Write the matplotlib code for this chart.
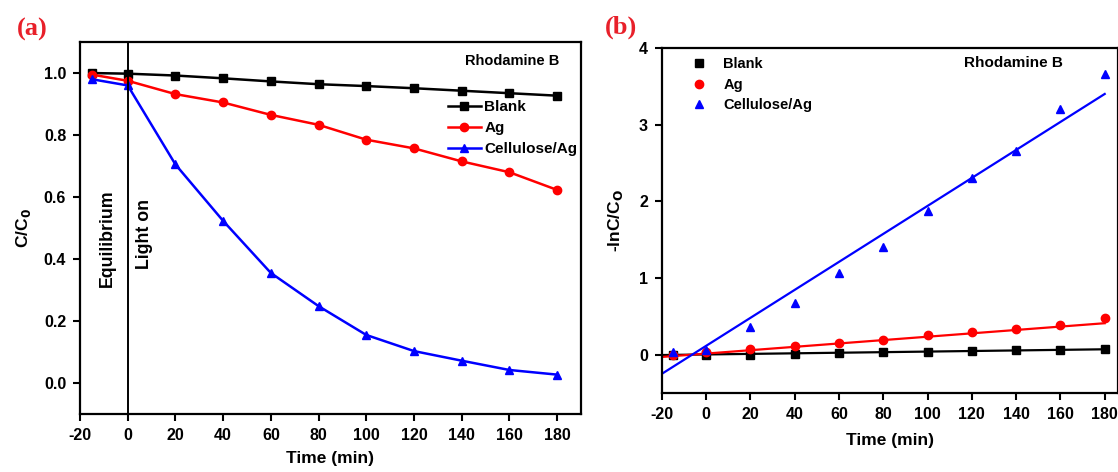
import numpy as np
import matplotlib
matplotlib.use('Agg')
import matplotlib.pyplot as plt

plt.rcParams['font.family'] = ['Liberation Sans', 'DejaVu Sans']
plt.rcParams['font.weight'] = 'bold'
plt.rcParams['axes.unicode_minus'] = False

# Data
time = [-15, 0, 20, 40, 60, 80, 100, 120, 140, 160, 180]
blank_c = [1.0, 0.998, 0.992, 0.983, 0.973, 0.964, 0.958, 0.951, 0.943, 0.935, 0.927]
ag_c = [0.995, 0.975, 0.932, 0.905, 0.865, 0.833, 0.785, 0.757, 0.715, 0.680, 0.623]
cell_c = [0.98, 0.96, 0.705, 0.523, 0.355, 0.248, 0.155, 0.103, 0.072, 0.042, 0.027]

blank_ln = [0.0, 0.0, 0.0, 0.01, 0.02, 0.03, 0.04, 0.05, 0.06, 0.065, 0.08]
ag_ln = [-0.01, 0.03, 0.08, 0.11, 0.15, 0.19, 0.25, 0.29, 0.34, 0.39, 0.48]
cell_ln = [0.04, 0.065, 0.36, 0.67, 1.06, 1.41, 1.88, 2.30, 2.65, 3.20, 3.66]

# linear fits as drawn in panel (b)
fit_slope = [0.000375, 0.0022, 0.01825]
fit_intercept = [0.0025, 0.014, 0.115]
fit_range = [-20, 180]

names = ['Blank', 'Ag', 'Cellulose/Ag']
colors = ['black', '#ff0000', '#0000ff']
markers = ['s', 'o', '^']
xticks = [-20, 0, 20, 40, 60, 80, 100, 120, 140, 160, 180]

fig = plt.figure(figsize=(11.18, 4.72), dpi=100)


def style_axes(ax):
    for s in ax.spines.values():
        s.set_linewidth(1.6)
    ax.tick_params(direction='out', length=5, width=1.5, labelsize=11.5,
                   top=False, right=False, pad=5)
    for lab in ax.get_xticklabels() + ax.get_yticklabels():
        lab.set_fontweight('bold')


# Panel (a)
ax1 = fig.add_axes([0.0716, 0.1229, 0.448, 0.788])
for ys, n, c, m in zip([blank_c, ag_c, cell_c], names, colors, markers):
    ax1.plot(time, ys, '-', color=c, marker=m, ms=6, lw=1.8, label=n)
ax1.axvline(0, color='black', lw=1.4)
ax1.set_xlim(-20, 190)
ax1.set_ylim(-0.1, 1.1)
ax1.set_xticks(xticks)
ax1.set_yticks([0.0, 0.2, 0.4, 0.6, 0.8, 1.0])
ax1.set_yticklabels(['0.0', '0.2', '0.4', '0.6', '0.8', '1.0'])
ax1.set_xlabel('Time (min)', fontsize=12.5, fontweight='bold', labelpad=6)
ax1.set_ylabel('C/C$_\\mathbf{0}$', fontsize=12.5, fontweight='bold', labelpad=8)
ax1.text(-8.7, 0.467, 'Equilibrium', rotation=90, fontsize=12.8,
         fontweight='bold', ha='center', va='center')
ax1.text(7.1, 0.48, 'Light on', rotation=90, fontsize=12.8,
         fontweight='bold', ha='center', va='center')
ax1.text(161, 1.04, 'Rhodamine B', fontsize=10.5, fontweight='bold',
         ha='center', va='center')
ax1.legend(loc='upper right', bbox_to_anchor=(1.02, 0.88), frameon=False,
           handlelength=2.2, handletextpad=0.2, labelspacing=0.45,
           prop={'weight': 'bold', 'size': 11})
style_axes(ax1)

# Panel (b)
ax2 = fig.add_axes([0.592, 0.1674, 0.408, 0.731])
xs = np.array(fit_range)
for i, (ys, n, c, m) in enumerate(zip([blank_ln, ag_ln, cell_ln], names, colors, markers)):
    ax2.plot(time, ys, linestyle='none', color=c, marker=m, ms=6, label=n)
    ax2.plot(xs, fit_slope[i] * xs + fit_intercept[i], '-', color=c, lw=1.6)
ax2.set_xlim(-20, 186)
ax2.set_ylim(-0.5, 4)
ax2.set_xticks(xticks)
ax2.set_yticks([0, 1, 2, 3, 4])
ax2.set_xlabel('Time (min)', fontsize=12.5, fontweight='bold', labelpad=8)
ax2.set_ylabel('-lnC/C$_\\mathbf{O}$', fontsize=12.5, fontweight='bold', labelpad=10)
ax2.text(139, 3.80, 'Rhodamine B', fontsize=11, fontweight='bold',
         ha='center', va='center')
handles = ax2.get_lines()[0::2]
ax2.legend(handles, names, loc='upper left', bbox_to_anchor=(0.036, 1.011),
           frameon=False, handlelength=1.0, handletextpad=1.2, labelspacing=0.45,
           prop={'weight': 'bold', 'size': 10.5})
style_axes(ax2)

# panel letters
fig.text(0.015, 0.924, '(a)', color='#e8202a', fontsize=19, fontweight='bold',
         family=['Liberation Serif', 'DejaVu Serif'])
fig.text(0.541, 0.928, '(b)', color='#e8202a', fontsize=19, fontweight='bold',
         family=['Liberation Serif', 'DejaVu Serif'])

fig.savefig('out.png', dpi=100)
